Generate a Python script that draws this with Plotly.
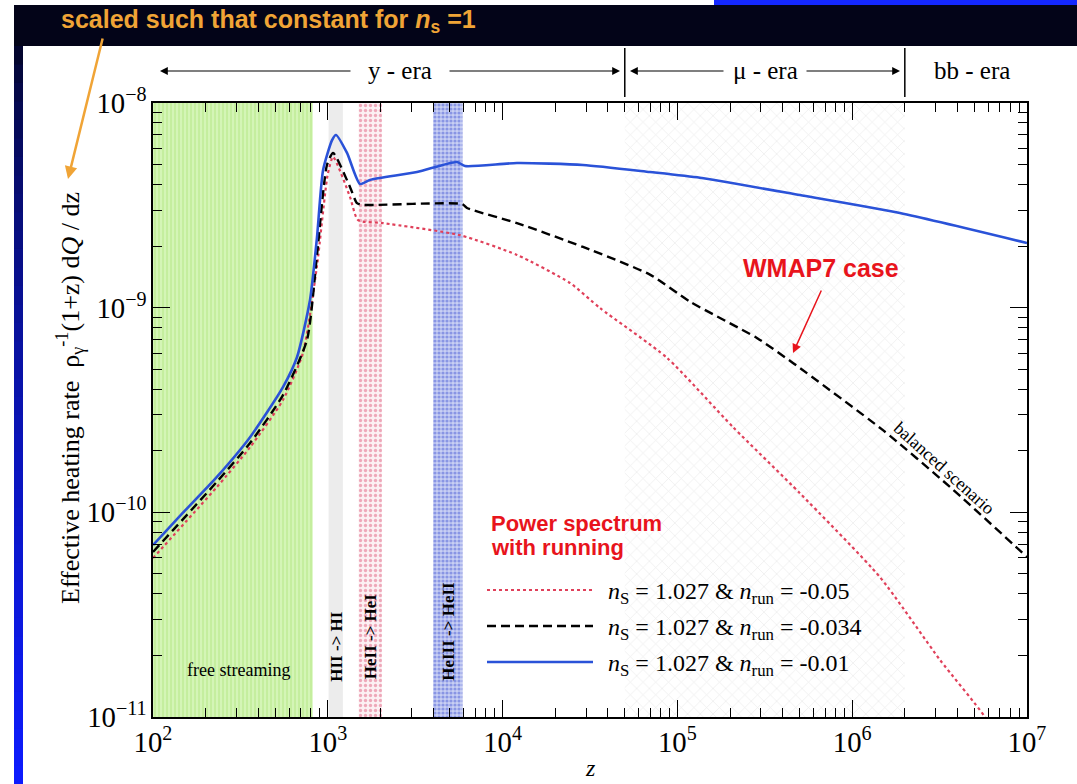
import numpy as np
import plotly.graph_objects as go

# ---------------- data ----------------
z_blue = [100, 148, 232, 359, 554, 667, 791, 867, 940, 1058, 1114, 1288, 1528, 1742, 3236, 5483, 6095,
          12080, 28840, 69660, 134600, 502000, 1.875e6, 1e7]
q_blue = [6.92e-11, 9.93e-11, 1.49e-10, 2.33e-10, 4.09e-10, 5.74e-10, 1.09e-9, 2.2e-9, 4.71e-9, 6.59e-9, 6.98e-9,
          5.70e-9, 4.02e-9, 4.21e-9, 4.60e-9, 5.15e-9, 4.92e-9, 5.09e-9, 4.98e-9, 4.60e-9, 4.31e-9, 3.55e-9,
          2.90e-9, 2.07e-9]

z_black = [100, 232, 359, 554, 760, 867, 989, 1072, 1339, 1469, 1589, 5865, 6258, 12080, 28840, 69660,
           118000, 285000, 458000, 1.5e6, 3.63e6, 1e7]
q_black = [6.40e-11, 1.41e-10, 2.18e-10, 3.74e-10, 6.95e-10, 1.8e-9, 4.98e-9, 5.70e-9, 3.89e-9, 3.24e-9,
           3.18e-9, 3.21e-9, 3.07e-9, 2.59e-9, 1.98e-9, 1.45e-9, 1.07e-9, 7.11e-10, 5.37e-10, 2.52e-10,
           1.33e-10, 6.05e-11]

z_red = [100, 232, 359, 554, 721, 867, 1000, 1072, 1339, 1490, 2070, 5700, 12080, 24300, 36100, 87300,
         208000, 502000, 1.44e6, 3.18e6, 5.75e6, 1e7]
q_red = [5.98e-11, 1.33e-10, 2.08e-10, 3.54e-10, 6.01e-10, 1.6e-9, 4.5e-9, 5.45e-9, 3.48e-9, 2.68e-9,
         2.59e-9, 2.26e-9, 1.81e-9, 1.32e-9, 9.95e-10, 5.68e-10, 2.61e-10, 1.24e-10, 4.83e-11, 1.90e-11,
         1.0e-11, 4.5e-12]

series_names = ["n_S = 1.027 & n_run = -0.05", "n_S = 1.027 & n_run = -0.034", "n_S = 1.027 & n_run = -0.01"]
legend_labels = ["<i>n</i><sub>S</sub> = 1.027 &amp; <i>n</i><sub>run</sub> = -0.05",
                 "<i>n</i><sub>S</sub> = 1.027 &amp; <i>n</i><sub>run</sub> = -0.034",
                 "<i>n</i><sub>S</sub> = 1.027 &amp; <i>n</i><sub>run</sub> = -0.01"]

band_free = [100, 820]
band_HII = [1010, 1220]
band_HeII = [1500, 2040]
band_HeIII = [4000, 5900]
band_mu = [5e4, 2e6]
era_bounds = [5e4, 2e6]

x_range = [2, 7]
y_range = [-11, -8]

# ---------------- layout helpers ----------------
W_FIG, H_FIG = 1077, 784
L, R, T, B = 153, 1027, 103, 717
def px(x):
    return (x - L) / (R - L)
def py(y):
    return (B - y) / (B - T)

SERIF = "Liberation Serif, Times New Roman, serif"
SANS = "Liberation Sans, Arial, sans-serif"

fig = go.Figure()

ylo, yhi = 10 ** y_range[0], 10 ** y_range[1]

def band(zs, **kw):
    fig.add_trace(go.Scatter(x=[zs[0], zs[1], zs[1], zs[0], zs[0]], y=[ylo, ylo, yhi, yhi, ylo],
                             mode="lines", fill="toself", line=dict(width=0), showlegend=False,
                             hoverinfo="skip", **kw))

band(band_mu, fillcolor="white",
     fillpattern=dict(shape="x", fgcolor="#d6d6d6", bgcolor="white", size=9, solidity=0.15))
band(band_free, fillcolor="#d2f4b4",
     fillpattern=dict(shape="|", fgcolor="#aee47a", bgcolor="#d4f5b6", size=4, solidity=0.4))
band(band_HII, fillcolor="#ececec")
band(band_HeII, fillcolor="#fbeef2",
     fillpattern=dict(shape=".", fgcolor="#e0607f", bgcolor="#fcf0f3", size=5, solidity=0.35))
band(band_HeIII, fillcolor="#c5ccf2",
     fillpattern=dict(shape=".", fgcolor="#4a5cd6", bgcolor="#c8cff3", size=4, solidity=0.5))

fig.add_trace(go.Scatter(x=z_red, y=q_red, mode="lines", name=series_names[0],
                         line=dict(color="#e0405a", width=2.2, dash="dot", shape="spline", smoothing=0.6)))
fig.add_trace(go.Scatter(x=z_black, y=q_black, mode="lines", name=series_names[1],
                         line=dict(color="black", width=2.4, dash="9px,5px", shape="spline", smoothing=0.6)))
fig.add_trace(go.Scatter(x=z_blue, y=q_blue, mode="lines", name=series_names[2],
                         line=dict(color="#2a52d8", width=2.6, shape="spline", smoothing=0.6)))

shapes = []
ann = []

def text(x, y, t, size, family=SERIF, color="black", angle=0, xanchor="center", yanchor="middle", xref="paper"):
    ann.append(dict(xref=xref, yref="paper", x=x, y=y, text=t, showarrow=False, textangle=angle,
                    xanchor=xanchor, yanchor=yanchor, font=dict(family=family, size=size, color=color)))

# dark frame decoration
shapes.append(dict(type="rect", xref="paper", yref="paper", x0=px(14), x1=px(1077), y0=py(46), y1=py(5),
                   fillcolor="#030418", line=dict(width=0), layer="above"))
shapes.append(dict(type="rect", xref="paper", yref="paper", x0=px(714), x1=px(1077), y0=py(5), y1=py(0),
                   fillcolor="#1428ff", line=dict(width=0), layer="above"))
nseg = 40
for i in range(nseg):
    y0 = 46 + (784 - 46) * i / nseg
    y1 = 46 + (784 - 46) * (i + 1) / nseg + 1
    t = ((i + 0.5) / nseg) ** 0.6
    r = int(3 + (14 - 3) * t)
    g = int(4 + (28 - 4) * t)
    b = int(30 + (255 - 30) * t)
    shapes.append(dict(type="rect", xref="paper", yref="paper", x0=px(14), x1=px(23), y0=py(y1), y1=py(y0),
                       fillcolor=f"rgb({r},{g},{b})", line=dict(width=0), layer="above"))

# era boundaries
for zb in era_bounds:
    shapes.append(dict(type="line", xref="x", yref="paper", x0=zb, x1=zb, y0=py(97), y1=py(48),
                       line=dict(color="black", width=1.5)))

# era arrows
for head, tail in [(160, 352), (620, 448), (630, 725), (900, 805)]:
    ann.append(dict(xref="paper", yref="paper", x=px(head), y=py(71), ax=tail - head, ay=0, text="",
                    showarrow=True, arrowhead=2, arrowsize=1.3, arrowwidth=1.2, arrowcolor="black"))
text(px(400), py(71), "y - era", 25)
text(px(765), py(71), "μ - era", 25)
text(px(972), py(71), "bb - era", 25)

# orange header and arrow
text(px(59), py(21), "<b>scaled such that constant for <i>n</i><sub>s</sub> =1</b>", 25,
     family="Liberation Sans Narrow, " + SANS, color="#f0a436", xanchor="left")
ann.append(dict(xref="paper", yref="paper", x=px(68), y=py(179), ax=35, ay=-142, text="", showarrow=True,
                arrowhead=2, arrowsize=1.0, arrowwidth=2.5, arrowcolor="#f0a436"))

# band labels
for zs, txt, yc in [(band_HII, "HII -&gt; HI", 646), (band_HeII, "HeII -&gt; HeI", 636),
                    (band_HeIII, "HeIII -&gt; HeII", 631)]:
    text(np.log10(np.sqrt(zs[0] * zs[1])), py(yc), "<b>" + txt + "</b>", 17, angle=-90, xref="x")
text(px(238), py(670), "free streaming", 18)

# red annotations
text(px(489), py(523), "<b>Power spectrum</b>", 22, family=SANS, color="#e8141c", xanchor="left")
text(px(489), py(547), "<b>with running</b>", 22, family=SANS, color="#e8141c", xanchor="left")
text(px(821), py(268), "<b>WMAP7 case</b>", 25, family=SANS, color="#e8141c")
ann.append(dict(xref="paper", yref="paper", x=px(793), y=py(353), ax=29, ay=-64, text="", showarrow=True,
                arrowhead=2, arrowsize=1.2, arrowwidth=1.5, arrowcolor="#e8141c"))
text(px(944), py(468), "balanced scenario", 18, angle=42)

# manual legend
rows = [590, 626, 662]
styles = [dict(color="#e0405a", width=2.2, dash="dot"), dict(color="black", width=2.4, dash="9px,5px"),
          dict(color="#2a52d8", width=2.6)]
for ry, st, lab in zip(rows, styles, legend_labels):
    shapes.append(dict(type="line", xref="paper", yref="paper", x0=px(487), x1=px(593), y0=py(ry), y1=py(ry),
                       line=st))
    text(px(606), py(ry + 3), lab, 24, xanchor="left")

# axis titles
text(px(70), py(398), "Effective heating rate  ρ<sub>γ</sub><sup>-1</sup>(1+z) d<i>Q</i> / dz", 26, angle=-90)
text(px(590), py(768), "<i>z</i>", 24)

axis_common = dict(type="log", showline=True, linecolor="black", linewidth=1.5, mirror="ticks",
                   ticks="inside", ticklen=17, tickwidth=1.2, tickcolor="black", showgrid=False, zeroline=False,
                   dtick=1, exponentformat="power", tickfont=dict(family=SERIF, size=23, color="black"),
                   minor=dict(ticks="inside", ticklen=9, tickwidth=1, tickcolor="black", dtick="D1", showgrid=False))

fig.update_layout(
    width=W_FIG, height=H_FIG,
    margin=dict(l=L, r=W_FIG - R, t=T, b=H_FIG - B, autoexpand=False),
    paper_bgcolor="white", plot_bgcolor="white",
    showlegend=False,
    xaxis=dict(range=x_range, **axis_common),
    yaxis=dict(range=y_range, **axis_common),
    shapes=shapes, annotations=ann,
)

fig.write_html("out.html")
